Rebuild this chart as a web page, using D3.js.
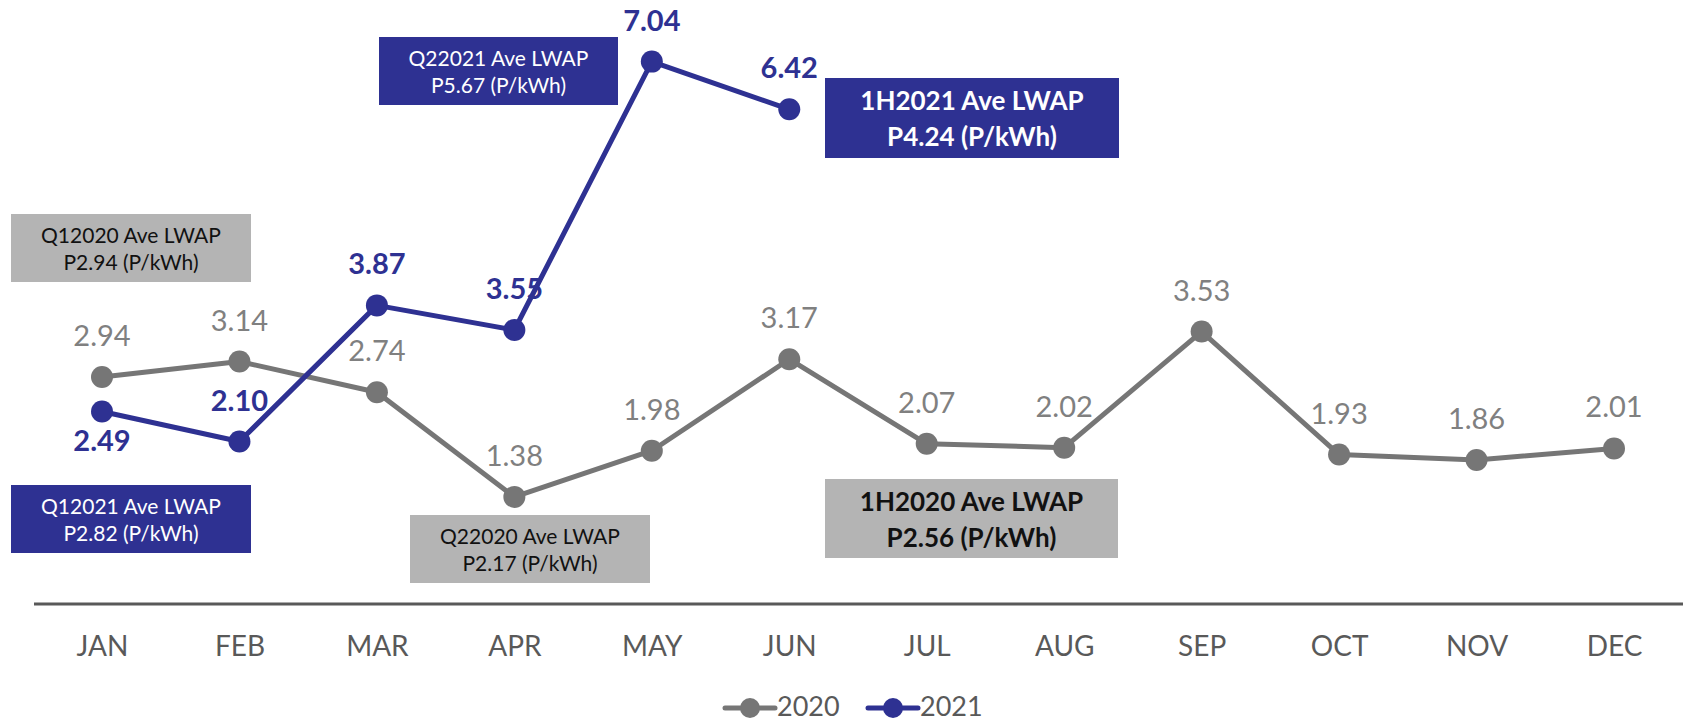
<!DOCTYPE html>
<html>
<head>
<meta charset="utf-8">
<script src="https://cdn.jsdelivr.net/npm/d3@7"></script>
<style>
  body { margin: 0; background: #fff; }
  text { font-family: Lato, "Open Sans", sans-serif; }
</style>
</head>
<body>
<div id="chart"></div>
<script>

var months = ["JAN","FEB","MAR","APR","MAY","JUN","JUL","AUG","SEP","OCT","NOV","DEC"]
var values2020 = [2.94, 3.14, 2.74, 1.38, 1.98, 3.17, 2.07, 2.02, 3.53, 1.93, 1.86, 2.01]
var values2021 = [2.49, 2.10, 3.87, 3.55, 7.04, 6.42]
var seriesNames = ["2020", "2021"]

// callout texts
var boxLines = [
  ["Q12020 Ave LWAP", "P2.94 (P/kWh)"],
  ["Q12021 Ave LWAP", "P2.82 (P/kWh)"],
  ["Q22020 Ave LWAP", "P2.17 (P/kWh)"],
  ["Q22021 Ave LWAP", "P5.67 (P/kWh)"],
  ["1H2020 Ave LWAP", "P2.56 (P/kWh)"],
  ["1H2021 Ave LWAP", "P4.24 (P/kWh)"]
]

var W = 1683, H = 721
var blue = "#2e3192", grey = "#767676", greyTxt = "#808080", boxGrey = "#b4b4b4", axisCol = "#595959"

var svg = d3.select("#chart").append("svg")
            .attr("width", W)
            .attr("height", H)

var x = d3.scalePoint().domain(months).range([102, 1614])
var y = d3.scaleLinear().domain([0, 7]).range([603, 64.7])

// base line
svg.append("line")
   .attr("x1", 34).attr("x2", W)
   .attr("y1", y(0) + 1).attr("y2", y(0) + 1)
   .attr("stroke", axisCol)
   .attr("stroke-width", 3)

// month labels
var xAxis = svg.append("g")
   .attr("transform", "translate(0," + (y(0) + 1) + ")")
   .call(d3.axisBottom(x).tickSize(0).tickPadding(0))
xAxis.select(".domain").remove()
xAxis.selectAll("text")
     .attr("y", 52)
     .attr("dy", 0)
     .style("font-family", "Lato, sans-serif")
     .style("font-size", "28px")
     .attr("fill", axisCol)

// callout boxes: [x, y, w, h, fill, text colour, bold]
var boxLayout = [
  [11, 214, 240, 68, boxGrey, "#111", false],
  [11, 485, 240, 68, blue, "#fff", false],
  [410, 515, 240, 68, boxGrey, "#111", false],
  [379, 37, 239, 68, blue, "#fff", false],
  [825, 479, 293, 79, boxGrey, "#111", true],
  [825, 78, 294, 80, blue, "#fff", true]
]

boxLayout.forEach(function(b, i){
  var g = svg.append("g").attr("transform", "translate(" + b[0] + "," + b[1] + ")")
  g.append("rect")
   .attr("width", b[2]).attr("height", b[3])
   .attr("fill", b[4])
  g.selectAll("text").data(boxLines[i]).enter()
   .append("text")
   .attr("x", b[2] / 2)
   .attr("y", (d, j) => b[6] ? 32 + j * 36 : 29 + j * 27)
   .attr("text-anchor", "middle")
   .attr("fill", b[5])
   .style("font-size", b[6] ? "26px" : "21px")
   .style("font-weight", b[6] ? "bold" : "normal")
   .text(d => d)
})

var line = d3.line()
             .x((d, i) => x(months[i]))
             .y(d => y(d))

function draw_series(vals, col){
  svg.append("path")
     .datum(vals)
     .attr("d", line)
     .attr("fill", "none")
     .attr("stroke", col)
     .attr("stroke-width", 5)
     .attr("stroke-linejoin", "round")

  svg.append("g").selectAll("circle")
     .data(vals).enter()
     .append("circle")
     .attr("cx", (d, i) => x(months[i]))
     .attr("cy", d => y(d))
     .attr("r", 11)
     .attr("fill", col)
}

draw_series(values2020, grey)
draw_series(values2021, blue)

// value labels
svg.append("g").selectAll("text")
   .data(values2020).enter()
   .append("text")
   .attr("x", (d, i) => x(months[i]))
   .attr("y", d => y(d) - 31)
   .attr("text-anchor", "middle")
   .attr("fill", greyTxt)
   .style("font-size", "29px")
   .text(d => d.toFixed(2))

svg.append("g").selectAll("text")
   .data(values2021).enter()
   .append("text")
   .attr("x", (d, i) => x(months[i]))
   .attr("y", (d, i) => i == 0 ? y(d) + 39 : y(d) - 31)
   .attr("text-anchor", "middle")
   .attr("fill", blue)
   .style("font-size", "29px")
   .style("font-weight", "bold")
   .text(d => d.toFixed(2))

// legend
var legX = [725, 868]
var leg = svg.append("g")
seriesNames.forEach(function(name, i){
  var col = i == 0 ? grey : blue
  var g = leg.append("g").attr("transform", "translate(" + legX[i] + ",708)")
  g.append("line")
   .attr("x1", 0).attr("x2", 50)
   .attr("stroke", col).attr("stroke-width", 5)
   .attr("stroke-linecap", "round")
  g.append("circle").attr("cx", 25).attr("r", 10).attr("fill", col)
  g.append("text")
   .attr("x", 52).attr("y", 8)
   .attr("fill", axisCol)
   .style("font-size", "27px")
   .text(name)
})

</script>
</body>
</html>
